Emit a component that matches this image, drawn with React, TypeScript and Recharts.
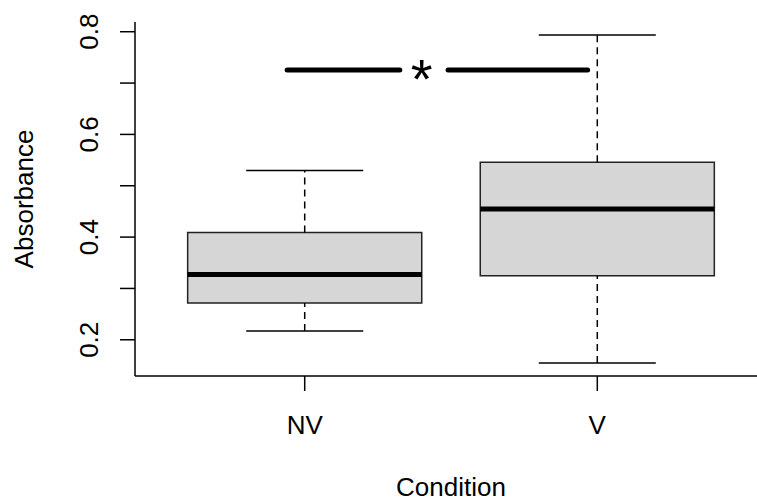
import React from "react";
import {
  ComposedChart,
  XAxis,
  YAxis,
  ReferenceArea,
  ReferenceLine,
  ReferenceDot,
  Label,
  Scatter,
} from "recharts";

// ---- data ----
const categories = ["NV", "V"];
const lowerWhisker = [0.217, 0.155];
const q1 = [0.2715, 0.3248];
const median = [0.3273, 0.4548];
const q3 = [0.409, 0.5457];
const upperWhisker = [0.5295, 0.7934];

const yTicks = [0.2, 0.3, 0.4, 0.5, 0.6, 0.7, 0.8];
const yTickLabels = ["0.2", "", "0.4", "", "0.6", "", "0.8"];

const sigLeft = [0.94, 1.325];
const sigRight = [1.49, 1.967];
const sigY = 0.7255;
const sigStarX = 1.4;
const sigText = "*";

const xTitle = "Condition";
const yTitle = "Absorbance";

// ---- derived (R-style axis extents) ----
const n = categories.length;
const xDomain: [number, number] = [0.5 - 0.04 * n, n + 0.5 + 0.04 * n];
const yMin = Math.min(...lowerWhisker);
const yMax = Math.max(...upperWhisker);
const yPad = 0.04 * (yMax - yMin);
const yDomain: [number, number] = [yMin - yPad, yMax + yPad];

const rows = categories.map((c, i) => ({
  x: i + 1,
  name: c,
  median: median[i],
}));

const FONT = '"Liberation Sans", Arial, sans-serif';
const BOX_HALF = 0.4;
const CAP_HALF = 0.2;

const YTick = (props: any) => {
  const { y, index } = props;
  const label = yTickLabels[index] ?? "";
  const bx = 98;
  return (
    <text
      x={bx}
      y={y}
      transform={`rotate(-90, ${bx}, ${y})`}
      textAnchor="middle"
      fontFamily={FONT}
      fontSize={26}
      fill="#000"
    >
      {label}
    </text>
  );
};

const XTick = (props: any) => {
  const { x, payload } = props;
  const label = categories[Math.round(payload.value) - 1] ?? "";
  return (
    <text
      x={x}
      y={434}
      textAnchor="middle"
      fontFamily={FONT}
      fontSize={26}
      fill="#000"
    >
      {label}
    </text>
  );
};

export default function App() {
  return (
    <div
      style={{
        position: "absolute",
        left: 0,
        top: 0,
        width: 757,
        height: 499,
        overflow: "hidden",
        background: "#fff",
      }}
    >
      <ComposedChart
        width={767}
        height={499}
        data={rows}
        margin={{ top: 22, right: 0, bottom: 0, left: 0 }}
      >
        <XAxis
          dataKey="x"
          type="number"
          domain={xDomain}
          ticks={[1, 2]}
          allowDataOverflow
          tickSize={15}
          tickLine={{ stroke: "#000", strokeWidth: 1.5 }}
          axisLine={{ stroke: "#000", strokeWidth: 1.5 }}
          tick={<XTick />}
          height={123}
          interval={0}
        >
          <Label
            content={(p: any) => {
              const vb = p.viewBox;
              return (
                <text
                  x={vb.x + vb.width / 2}
                  y={vb.y + 120}
                  textAnchor="middle"
                  fontFamily={FONT}
                  fontSize={26}
                  fill="#000"
                >
                  {xTitle}
                </text>
              );
            }}
          />
        </XAxis>
        <XAxis
          xAxisId="top"
          orientation="top"
          type="number"
          domain={xDomain}
          allowDataOverflow
          tick={false}
          tickLine={false}
          height={0}
          axisLine={{ stroke: "#000", strokeWidth: 1.5 }}
        />
        <YAxis
          type="number"
          domain={yDomain}
          allowDataOverflow
          ticks={yTicks}
          interval={0}
          tickSize={15}
          width={135}
          tickLine={{ stroke: "#000", strokeWidth: 1.5 }}
          axisLine={{ stroke: "#000", strokeWidth: 1.5 }}
          tick={<YTick />}
        >
          <Label
            content={(p: any) => {
              const vb = p.viewBox;
              const cx = vb.x + 33;
              const cy = vb.y + vb.height / 2;
              return (
                <text
                  x={cx}
                  y={cy}
                  transform={`rotate(-90, ${cx}, ${cy})`}
                  textAnchor="middle"
                  fontFamily={FONT}
                  fontSize={26}
                  fill="#000"
                >
                  {yTitle}
                </text>
              );
            }}
          />
        </YAxis>

        {categories.map((c, i) => {
          const x = i + 1;
          return (
            <React.Fragment key={c}>
              <ReferenceLine
                segment={[
                  { x, y: q3[i] },
                  { x, y: upperWhisker[i] },
                ]}
                stroke="#000"
                strokeWidth={1.5}
                strokeDasharray="7 5"
              />
              <ReferenceLine
                segment={[
                  { x, y: lowerWhisker[i] },
                  { x, y: q1[i] },
                ]}
                stroke="#000"
                strokeWidth={1.5}
                strokeDasharray="7 5"
              />
              <ReferenceLine
                segment={[
                  { x: x - CAP_HALF, y: upperWhisker[i] },
                  { x: x + CAP_HALF, y: upperWhisker[i] },
                ]}
                stroke="#000"
                strokeWidth={1.5}
              />
              <ReferenceLine
                segment={[
                  { x: x - CAP_HALF, y: lowerWhisker[i] },
                  { x: x + CAP_HALF, y: lowerWhisker[i] },
                ]}
                stroke="#000"
                strokeWidth={1.5}
              />
              <ReferenceArea
                x1={x - BOX_HALF}
                x2={x + BOX_HALF}
                y1={q1[i]}
                y2={q3[i]}
                fill="#d6d6d6"
                fillOpacity={1}
                stroke="#222"
                strokeWidth={1.5}
              />
            </React.Fragment>
          );
        })}
        {categories.map((c, i) => (
          <ReferenceLine
            key={"m" + c}
            segment={[
              { x: i + 1 - BOX_HALF, y: median[i] },
              { x: i + 1 + BOX_HALF, y: median[i] },
            ]}
            stroke="#000"
            strokeWidth={5}
          />
        ))}

        <ReferenceLine
          segment={[
            { x: sigLeft[0], y: sigY },
            { x: sigLeft[1], y: sigY },
          ]}
          stroke="#000"
          strokeWidth={5}
          strokeLinecap="round"
        />
        <ReferenceLine
          segment={[
            { x: sigRight[0], y: sigY },
            { x: sigRight[1], y: sigY },
          ]}
          stroke="#000"
          strokeWidth={5}
          strokeLinecap="round"
        />
        <ReferenceDot
          x={sigStarX}
          y={sigY}
          r={0}
          shape={(p: any) => (
            <text
              x={p.cx}
              y={p.cy + 28}
              textAnchor="middle"
              fontFamily={FONT}
              fontSize={56}
              fill="#000"
            >
              {sigText}
            </text>
          )}
        />

        <Scatter
          dataKey="median"
          fill="none"
          isAnimationActive={false}
          shape={() => <g />}
        />
      </ComposedChart>
    </div>
  );
}
